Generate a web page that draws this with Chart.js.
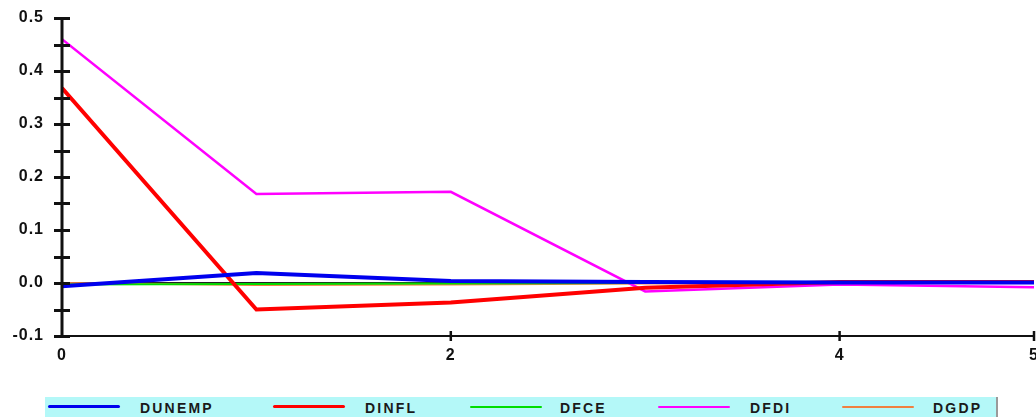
<!DOCTYPE html>
<html>
<head>
<meta charset="utf-8">
<script src="https://cdn.jsdelivr.net/npm/chart.js@4"></script>
<style>
  html, body { margin: 0; padding: 0; background: #fff; overflow: hidden; }
  #wrap { position: relative; width: 1036px; height: 417px; }
  #chartBox { position: absolute; left: 0; top: 0; width: 1036px; height: 380px; }
  #legend {
    position: absolute; left: 45px; top: 397px; width: 951px; height: 26px;
    background: #b4f8f8; border-right: 2px solid #9a9a9a;
  }
  .swatch { position: absolute; height: 3px; border-radius: 2px; }
  .lbl {
    position: absolute; top: 3px; font: bold 14px "Liberation Sans", Arial, sans-serif;
    letter-spacing: 2.2px; color: #1a1a1a; line-height: 16px;
  }
</style>
</head>
<body>
<div id="wrap">
  <div id="chartBox"><canvas id="c" width="1036" height="380"></canvas></div>
  <div id="legend"></div>
</div>
<script>
// Response periods
const periods = [0, 1, 2, 3, 4, 5];
// Responses per variable
const dunemp = [-0.006, 0.019, 0.004, 0.002, 0.001, 0.001];
const dinfl  = [0.368, -0.050, -0.037, -0.009, 0.002, 0.002];
const dfce   = [-0.003, -0.002, -0.001, 0.000, 0.000, 0.000];
const dfdi   = [0.460, 0.168, 0.172, -0.016, -0.003, -0.008];
const dgdp   = [0.000, -0.004, -0.003, -0.001, 0.000, 0.000];
// Axis labels
const xTickValues = [0, 2, 4, 5];
const seriesNames = ['DUNEMP', 'DINFL', 'DFCE', 'DFDI', 'DGDP'];

const seriesValues = [dunemp, dinfl, dfce, dfdi, dgdp];
const colors = ['#0000ee', '#ff0000', '#00dd00', '#ff00ff', '#f08040'];
const widths = [4, 4, 2, 2.5, 2];

const datasets = seriesNames.map((name, i) => ({
  label: name,
  data: periods.map((p, j) => ({ x: p, y: seriesValues[i][j] })),
  borderColor: colors[i],
  backgroundColor: colors[i],
  borderWidth: widths[i],
  pointRadius: 0,
  tension: 0,
  fill: false
}));

// Axis frame: zero line, cross tick marks on the y axis, short ticks on the x axis
const axisFrame = {
  id: 'axisFrame',
  beforeDatasetsDraw(chart) {
    const { ctx, chartArea: a, scales: { y } } = chart;
    ctx.save();
    ctx.strokeStyle = '#222';
    ctx.lineWidth = 2;
    const y0 = y.getPixelForValue(0);
    ctx.beginPath(); ctx.moveTo(a.left, y0); ctx.lineTo(a.right, y0); ctx.stroke();
    ctx.restore();
  },
  afterDatasetsDraw(chart) {
    const { ctx, chartArea: a, scales: { x, y } } = chart;
    ctx.save();
    ctx.strokeStyle = '#111';
    ctx.lineWidth = 3;
    ctx.beginPath(); ctx.moveTo(a.left, a.top - 1); ctx.lineTo(a.left, a.bottom + 1); ctx.stroke();
    ctx.lineWidth = 2;
    ctx.beginPath(); ctx.moveTo(a.left, a.bottom); ctx.lineTo(a.right, a.bottom); ctx.stroke();
    ctx.lineWidth = 3;
    for (let v = -0.1; v <= 0.5001; v += 0.05) {
      const py = Math.round(y.getPixelForValue(v)) + 0.5;
      ctx.beginPath(); ctx.moveTo(a.left - 8, py); ctx.lineTo(a.left + 8, py); ctx.stroke();
    }
    ctx.lineWidth = 2.5;
    xTickValues.slice(1).forEach(v => {
      const px = x.getPixelForValue(v);
      ctx.beginPath(); ctx.moveTo(px, a.bottom - 5); ctx.lineTo(px, a.bottom + 5); ctx.stroke();
    });
    ctx.restore();
  }
};

const spacing = {
  id: 'spacing',
  beforeDraw(chart) { chart.ctx.letterSpacing = '1px'; }
};

new Chart(document.getElementById('c'), {
  type: 'line',
  data: { datasets },
  plugins: [spacing, axisFrame],
  options: {
    responsive: false,
    animation: false,
    layout: { autoPadding: false, padding: { left: 0, right: 2, top: 18, bottom: 0 } },
    plugins: { legend: { display: false }, tooltip: { enabled: false } },
    scales: {
      x: {
        type: 'linear', min: 0, max: 5,
        afterBuildTicks(s) { s.ticks = xTickValues.map(v => ({ value: v })); },
        afterFit(s) { s.height = 44; s.paddingLeft = 0; s.paddingRight = 0; },
        grid: { display: false, drawTicks: false },
        border: { display: false },
        ticks: {
          color: '#111', padding: 10, maxRotation: 0, autoSkip: false,
          font: { family: 'Liberation Sans', size: 16, weight: 'bold' },
          callback: v => String(v)
        }
      },
      y: {
        min: -0.1, max: 0.5,
        afterBuildTicks(s) {
          const t = [];
          for (let k = -1; k <= 5; k++) t.push({ value: k / 10 });
          s.ticks = t;
        },
        afterFit(s) { s.width = 62; s.paddingTop = 0; s.paddingBottom = 0; },
        grid: { display: false, drawTicks: false },
        border: { display: false },
        ticks: {
          color: '#111', padding: 18,
          font: { family: 'Liberation Sans', size: 16, weight: 'bold' },
          callback: v => v.toFixed(1)
        }
      }
    }
  }
});

// Legend strip
const legend = document.getElementById('legend');
const swatchLeft = [3, 228, 425, 613, 797];
const labelLeft = [95, 320, 515, 705, 888];
seriesNames.forEach((name, i) => {
  const sw = document.createElement('div');
  sw.className = 'swatch';
  sw.style.left = swatchLeft[i] + 'px';
  sw.style.width = '72px';
  sw.style.top = (10 - Math.round(widths[i] / 2)) + 'px';
  sw.style.height = Math.max(2, Math.round(widths[i] * 0.8)) + 'px';
  sw.style.background = colors[i];
  legend.appendChild(sw);
  const lb = document.createElement('div');
  lb.className = 'lbl';
  lb.style.left = labelLeft[i] + 'px';
  lb.textContent = name;
  legend.appendChild(lb);
});
</script>
</body>
</html>
